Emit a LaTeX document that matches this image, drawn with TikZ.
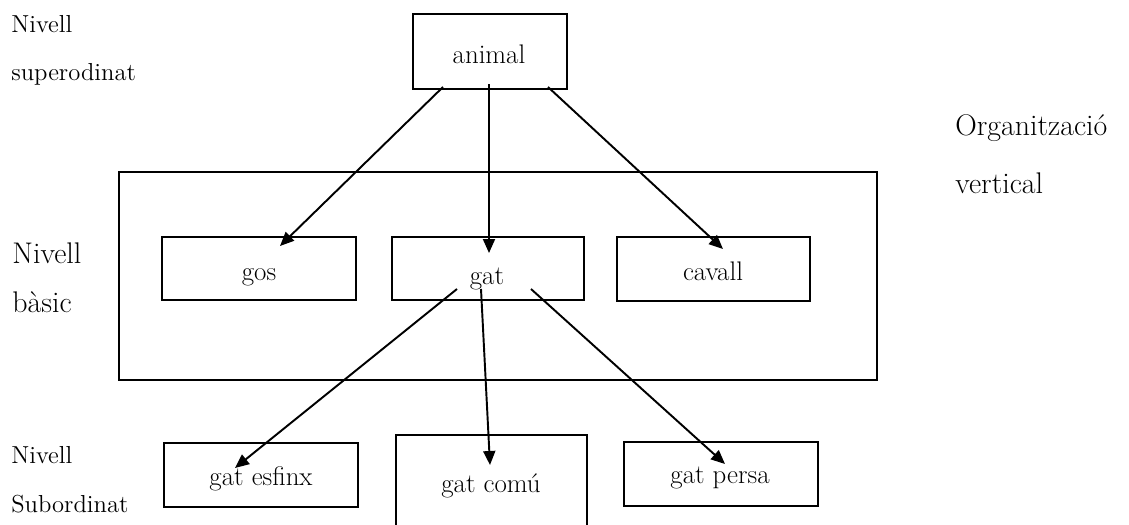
\documentclass[tikz,border=0pt]{standalone}
\usetikzlibrary{arrows.meta}
\begin{document}
\begin{tikzpicture}[x=0.02cm,y=-0.02cm,
  box/.style={draw,line width=1.1pt,rectangle,inner sep=0pt,outer sep=0pt},
  conn/.style={line width=1.1pt,-{Triangle[length=0.28cm,width=0.24cm]}},
  boxtxt/.style={anchor=base,inner sep=0pt,font=\fontsize{15.3}{18}\selectfont},
  bigtxt/.style={anchor=base west,inner sep=0pt,font=\fontsize{17}{20}\selectfont},
  smalltxt/.style={anchor=base west,inner sep=0pt,font=\fontsize{14}{17}\selectfont}]
\useasboundingbox (0,0) rectangle (1129,524);
\clip (0,0) rectangle (1129,524);
% boxes
\node[box,minimum width=3.08cm,minimum height=1.5cm] (animal) at (490,51.5) {};
\node[box,minimum width=15.16cm,minimum height=4.16cm] (basic) at (498,276) {};
\node[box,minimum width=3.88cm,minimum height=1.26cm] (gos) at (259,268.5) {};
\node[box,minimum width=3.84cm,minimum height=1.26cm] (gat) at (488,268.5) {};
\node[box,minimum width=3.86cm,minimum height=1.28cm] (cavall) at (713.5,269) {};
\node[box,minimum width=3.88cm,minimum height=1.28cm] (esfinx) at (261,475) {};
\node[box,minimum width=3.82cm,minimum height=2.5cm] (comu) at (491.5,497.5) {};
\node[box,minimum width=3.88cm,minimum height=1.28cm] (persa) at (721,474) {};
% box labels
\node[boxtxt] (animalT) at (489,63) {animal};
\node[boxtxt] (gosT) at (259,280) {gos};
\node[boxtxt] (gatT) at (487,284) {gat};
\node[boxtxt] (cavallT) at (713,280) {cavall};
\node[boxtxt] (esfinxT) at (261,485) {gat esfinx};
\node[boxtxt] (comuT) at (491,492) {gat comú};
\node[boxtxt] (persaT) at (720,483) {gat persa};
% side labels
\node[smalltxt] (l1) at (11,32) {Nivell};
\node[smalltxt] (l2) at (11,80) {superodinat};
\node[bigtxt] (l3) at (12,263) {Nivell};
\node[bigtxt] (l4) at (12,312) {bàsic};
\node[smalltxt] (l5) at (11,463) {Nivell};
\node[smalltxt] (l6) at (11,512) {Subordinat};
\node[bigtxt] (o1) at (955,135) {Organització};
\node[bigtxt] (o2) at (955,193) {vertical};
% connector end points
\coordinate (a1) at (443,87);
\coordinate (a2) at (489,84);
\coordinate (a3) at (548,87);
\coordinate (t1) at (280,246);
\coordinate (t2) at (489,253);
\coordinate (t3) at (723,249);
\coordinate (g1) at (457,289);
\coordinate (g2) at (481,289);
\coordinate (g3) at (531,289);
\coordinate (s1) at (235,468);
\coordinate (s2) at (490,465);
\coordinate (s3) at (725,464);
\draw[conn] (a1) -- (t1);
\draw[conn] (a2) -- (t2);
\draw[conn] (a3) -- (t3);
\draw[conn] (g1) -- (s1);
\draw[conn] (g2) -- (s2);
\draw[conn] (g3) -- (s3);
\end{tikzpicture}
\end{document}
